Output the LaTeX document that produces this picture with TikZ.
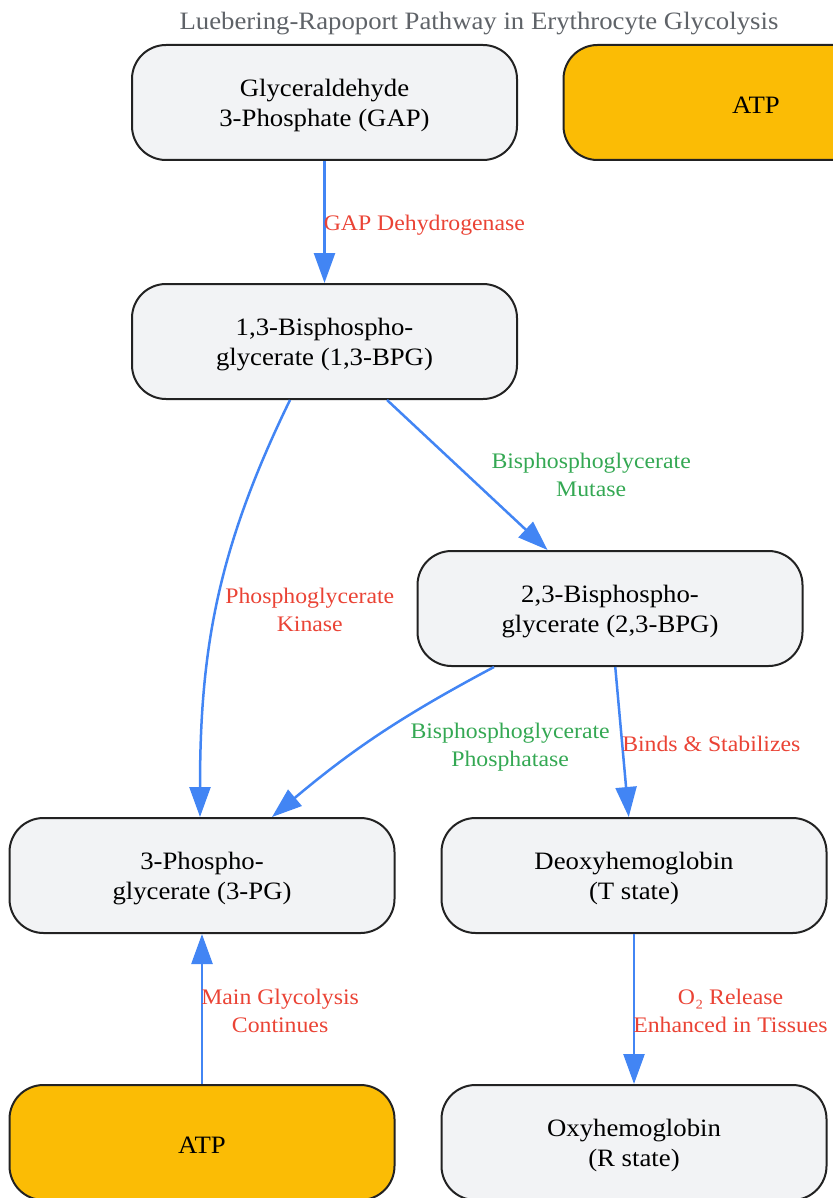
\documentclass[tikz,border=0pt]{standalone}
\usepackage{fontspec}
\setmainfont{Liberation Serif}[FakeStretch=1.07]
\usepackage{tikz}
\usetikzlibrary{positioning, arrows.meta}

\definecolor{nodefill}{HTML}{F2F3F5}
\definecolor{nodeline}{HTML}{222222}
\definecolor{atpfill}{HTML}{FBBC05}
\definecolor{arrowblue}{HTML}{4285F4}
\definecolor{labelred}{HTML}{EA4335}
\definecolor{labelgreen}{HTML}{34A853}
\definecolor{titlegray}{HTML}{5F6368}

\tikzset{
  metabolite/.style={draw=nodeline, line width=2pt, fill=nodefill, rounded corners=34pt,
    minimum width=385pt, minimum height=115pt, align=center, font=\fontsize{25}{30}\selectfont,
    text depth=-10pt},
  energy/.style={metabolite, fill=atpfill, text height=22pt, text depth=0pt},
  flow/.style={color=arrowblue, line width=2.5pt, -{Triangle[length=30pt,width=21pt]}},
  redlabel/.style={text=labelred, align=center, inner sep=1pt, font=\fontsize{22.2}{28}\selectfont},
  greenlabel/.style={text=labelgreen, align=center, inner sep=1pt, font=\fontsize{22.2}{28}\selectfont}
}

\begin{document}
\begin{tikzpicture}[x=1pt,y=-1pt,node distance=267pt,on grid]
      \useasboundingbox (0,0) rectangle (832,1198);
      \node[text=titlegray, anchor=base, font=\fontsize{25}{28}\selectfont] (title) at (479,30) {Luebering-Rapoport Pathway in Erythrocyte Glycolysis};
      \node[metabolite] (gap) at (324.5,102.5) {Glyceraldehyde\\3-Phosphate (GAP)};
      \node[energy] (atp_top) [right=431.5pt of gap] {ATP};
      \node[metabolite] (bpg13) [below=239pt of gap] {1,3-Bisphospho-\\glycerate (1,3-BPG)};
      \node[metabolite] (bpg23) [below right=267pt and 285.5pt of bpg13] {2,3-Bisphospho-\\glycerate (2,3-BPG)};
      \node[metabolite] (pg3) [below left=267pt and 408pt of bpg23] {3-Phospho-\\glycerate (3-PG)};
      \node[metabolite] (deoxy) [right=432pt of pg3] {Deoxyhemoglobin\\(T state)};
      \node[energy] (atp_bottom) [below=of pg3] {ATP};
      \node[metabolite] (oxy) [below=of deoxy] {Oxyhemoglobin\\(R state)};
      \path[flow]
      (gap) edge node[redlabel, right=-3pt, yshift=-3pt] {GAP Dehydrogenase} (bpg13)
      (bpg13) edge node[greenlabel, right=22pt] {Bisphosphoglycerate\\Mutase} (bpg23)
      ([xshift=-34.5pt]bpg13.south) edge[out=-116, in=90] node[redlabel, pos=0.52, right=7pt] {Phosphoglycerate\\Kinase} ([xshift=-2pt]pg3.north)
      ([xshift=-116pt]bpg23.south) edge[out=-152, in=40] node[greenlabel, pos=0.56, right=42pt, yshift=-4pt] {Bisphosphoglycerate\\Phosphatase} ([xshift=70pt]pg3.north)
      (bpg23) edge node[redlabel, right=-2pt, yshift=-2pt] {Binds \& Stabilizes} (deoxy)
      (deoxy) edge node[redlabel, right=-3pt, yshift=-2pt] {O₂ Release\\Enhanced in Tissues} (oxy)
      (atp_bottom) edge node[redlabel, right=-3pt, yshift=-2pt] {Main Glycolysis\\Continues} (pg3);
\end{tikzpicture}
\end{document}
